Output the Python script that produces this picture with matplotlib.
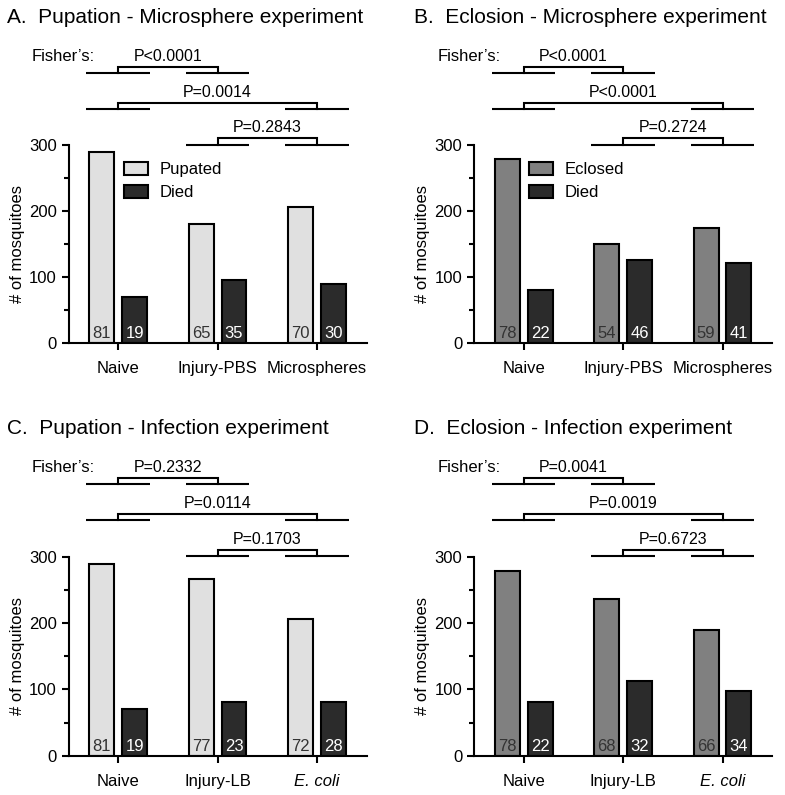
import matplotlib
matplotlib.use('agg')
import matplotlib.pyplot as plt
import numpy as np

plt.rcParams['font.family'] = ['Liberation Sans', 'DejaVu Sans']

# --- data ---
groups_micro = ['Naive', 'Injury-PBS', 'Microspheres']
groups_infect = ['Naive', 'Injury-LB', 'E. coli']

pupated_micro = [290, 180, 206]
pupdied_micro = [70, 96, 90]
pup_pct_micro = [81, 65, 70]
pupdied_pct_micro = [19, 35, 30]

eclosed_micro = [279, 150, 175]
ecldied_micro = [81, 126, 121]
ecl_pct_micro = [78, 54, 59]
ecldied_pct_micro = [22, 46, 41]

pupated_infect = [289, 266, 206]
pupdied_infect = [70, 81, 81]
pup_pct_infect = [81, 77, 72]
pupdied_pct_infect = [19, 23, 28]

eclosed_infect = [279, 236, 190]
ecldied_infect = [81, 112, 97]
ecl_pct_infect = [78, 68, 66]
ecldied_pct_infect = [22, 32, 34]

# Fisher's p-values: pairs (0,1), (0,2), (1,2)
pairs = [(0, 1), (0, 2), (1, 2)]
pvals_A = ['P<0.0001', 'P=0.0014', 'P=0.2843']
pvals_B = ['P<0.0001', 'P<0.0001', 'P=0.2724']
pvals_C = ['P=0.2332', 'P=0.0114', 'P=0.1703']
pvals_D = ['P=0.0041', 'P=0.0019', 'P=0.6723']
bracket_levels = [409, 355, 301]

LIGHT = '#e0e0e0'
MID = '#808080'
DARK = '#2b2b2b'


def draw_panel(ax, groups, alive, died, alive_pct, died_pct, pvals, alive_color,
               alive_label=None, italic_last=False):
    x = np.arange(len(groups))
    w = 0.25
    off = 0.165
    ax.bar(x - off, alive, w, color=alive_color, edgecolor='black', linewidth=1.5,
           label=alive_label, zorder=2)
    ax.bar(x + off, died, w, color=DARK, edgecolor='black', linewidth=1.5,
           label='Died', zorder=2)
    for i in range(len(groups)):
        ax.text(x[i] - off, 7.5, str(alive_pct[i]), ha='center', va='baseline',
                fontsize=12, color='#333333', zorder=3)
        ax.text(x[i] + off, 7.5, str(died_pct[i]), ha='center', va='baseline',
                fontsize=12, color='white', zorder=3)

    ax.set_xlim(-0.5, 2.5)
    ax.set_ylim(0, 300)
    ax.set_yticks([0, 100, 200, 300])
    ax.set_yticks([50, 150, 250], minor=True)
    ax.set_xticks(x)
    ax.set_xticklabels(groups)
    if italic_last:
        ax.get_xticklabels()[-1].set_fontstyle('italic')
    ax.tick_params(axis='both', which='major', labelsize=12, length=5, width=1.5,
                   direction='out')
    ax.tick_params(axis='y', which='minor', length=3.3, width=1.5, direction='out')
    ax.tick_params(axis='x', pad=8)
    ax.spines['top'].set_visible(False)
    ax.spines['right'].set_visible(False)
    ax.spines['left'].set_linewidth(1.5)
    ax.spines['bottom'].set_linewidth(1.5)
    ax.set_ylabel('# of mosquitoes', fontsize=12, labelpad=3)

    # significance brackets above the axes
    rise = 9.5
    half = 0.32
    for (g1, g2), p, lev in zip(pairs, pvals, bracket_levels):
        for g in (g1, g2):
            ax.plot([g - half, g + half], [lev, lev], color='black', lw=1.5,
                    clip_on=False, solid_capstyle='butt')
        ax.plot([g1, g1, g2, g2], [lev, lev + rise, lev + rise, lev], color='black',
                lw=1.5, clip_on=False, solid_joinstyle='miter')
        ax.text((g1 + g2) / 2, lev + 18.5, p, ha='center', va='baseline',
                fontsize=11.5, clip_on=False)
    ax.text(-0.87, bracket_levels[0] + 18.5, 'Fisher\u2019s:', ha='left',
            va='baseline', fontsize=12, clip_on=False)


fig = plt.figure(figsize=(7.85, 7.95), dpi=100)
axA = fig.add_axes([0.0873, 0.5682, 0.3799, 0.2491])
axB = fig.add_axes([0.6038, 0.5682, 0.3799, 0.2491])
axC = fig.add_axes([0.0873, 0.0494, 0.3799, 0.2503])
axD = fig.add_axes([0.6038, 0.0494, 0.3799, 0.2503])

draw_panel(axA, groups_micro, pupated_micro, pupdied_micro, pup_pct_micro,
           pupdied_pct_micro, pvals_A, LIGHT, 'Pupated')
draw_panel(axB, groups_micro, eclosed_micro, ecldied_micro, ecl_pct_micro,
           ecldied_pct_micro, pvals_B, MID, 'Eclosed')
draw_panel(axC, groups_infect, pupated_infect, pupdied_infect, pup_pct_infect,
           pupdied_pct_infect, pvals_C, LIGHT, italic_last=True)
draw_panel(axD, groups_infect, eclosed_infect, ecldied_infect, ecl_pct_infect,
           ecldied_pct_infect, pvals_D, MID, italic_last=True)

for ax in (axA, axB):
    ax.legend(loc='upper left', bbox_to_anchor=(0.186, 0.915), frameon=False,
              fontsize=12, handlelength=1.42, handleheight=0.84, handletextpad=0.7,
              labelspacing=0.45, borderpad=0, borderaxespad=0)

fig.text(0.0093, 0.9715, 'A.  Pupation - Microsphere experiment', fontsize=15,
         ha='left', va='baseline')
fig.text(0.527, 0.9715, 'B.  Eclosion - Microsphere experiment', fontsize=15,
         ha='left', va='baseline')
fig.text(0.0093, 0.454, 'C.  Pupation - Infection experiment', fontsize=15,
         ha='left', va='baseline')
fig.text(0.527, 0.454, 'D.  Eclosion - Infection experiment', fontsize=15,
         ha='left', va='baseline')

fig.savefig('out.png', dpi=100)
